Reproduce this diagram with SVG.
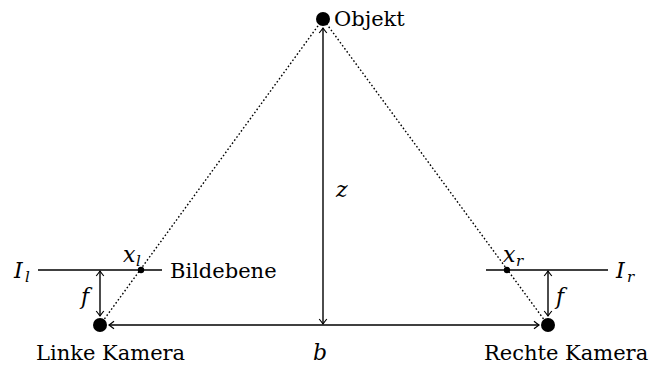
<svg xmlns="http://www.w3.org/2000/svg" width="650" height="365" viewBox="0 0 650 365">
<style>
text{font-family:'DejaVu Serif',serif;fill:#000}
.t{font-size:21px}
.m{font-style:italic;font-size:22px}
.s{font-style:italic;font-size:15px}
.ln{stroke:#000;stroke-width:1.4;fill:none}
.dot{stroke:#000;stroke-width:1.4;stroke-dasharray:1.6 2.2;fill:none}
</style>
<defs>
<marker id="ah" viewBox="-6 -5 8 10" markerWidth="8" markerHeight="10" refX="0" refY="0" orient="auto-start-reverse" markerUnits="userSpaceOnUse">
<path d="M-5,-3.8 Q-1.5,-1 0,0 Q-1.5,1 -5,3.8" fill="none" stroke="#000" stroke-width="1.2"/>
</marker>
</defs>
<g id="connectors">
<line class="dot" x1="100" y1="325" x2="323" y2="19"/>
<line class="dot" x1="548" y1="325" x2="323" y2="19"/>
<line class="ln" x1="323" y1="28" x2="323" y2="324" marker-start="url(#ah)" marker-end="url(#ah)"/>
<line class="ln" x1="109" y1="325" x2="539" y2="325" marker-start="url(#ah)" marker-end="url(#ah)"/>
<line class="ln" x1="100" y1="271" x2="100" y2="316" marker-start="url(#ah)" marker-end="url(#ah)"/>
<line class="ln" x1="548" y1="271" x2="548" y2="316" marker-start="url(#ah)" marker-end="url(#ah)"/>
</g>
<g id="objekt">
<circle cx="323" cy="19" r="7"/>
<text class="t" x="334" y="26">Objekt</text>
</g>
<g id="linke-kamera">
<circle cx="100" cy="325" r="7"/>
<text class="t" x="36" y="360">Linke Kamera</text>
</g>
<g id="rechte-kamera">
<circle cx="548" cy="325" r="7"/>
<text class="t" x="484" y="360">Rechte Kamera</text>
</g>
<g id="bildebene-links">
<line class="ln" x1="38" y1="270" x2="162" y2="270"/>
<circle cx="141" cy="270" r="3.2"/>
<text class="m" x="14" y="278">I</text><text class="s" x="25" y="282">l</text>
<text class="m" x="123" y="262">x</text><text class="s" x="136" y="266">l</text>
<text class="t" x="170" y="278">Bildebene</text>
<text class="m" x="81" y="304">f</text>
</g>
<g id="bildebene-rechts">
<line class="ln" x1="486" y1="270" x2="608" y2="270"/>
<circle cx="507" cy="270" r="3.2"/>
<text class="m" x="616" y="278">I</text><text class="s" x="627" y="282">r</text>
<text class="m" x="503" y="262">x</text><text class="s" x="516" y="266">r</text>
<text class="m" x="556" y="304">f</text>
</g>
<g id="labels">
<text class="m" x="336" y="197">z</text>
<text class="m" x="313" y="360">b</text>
</g>
</svg>
